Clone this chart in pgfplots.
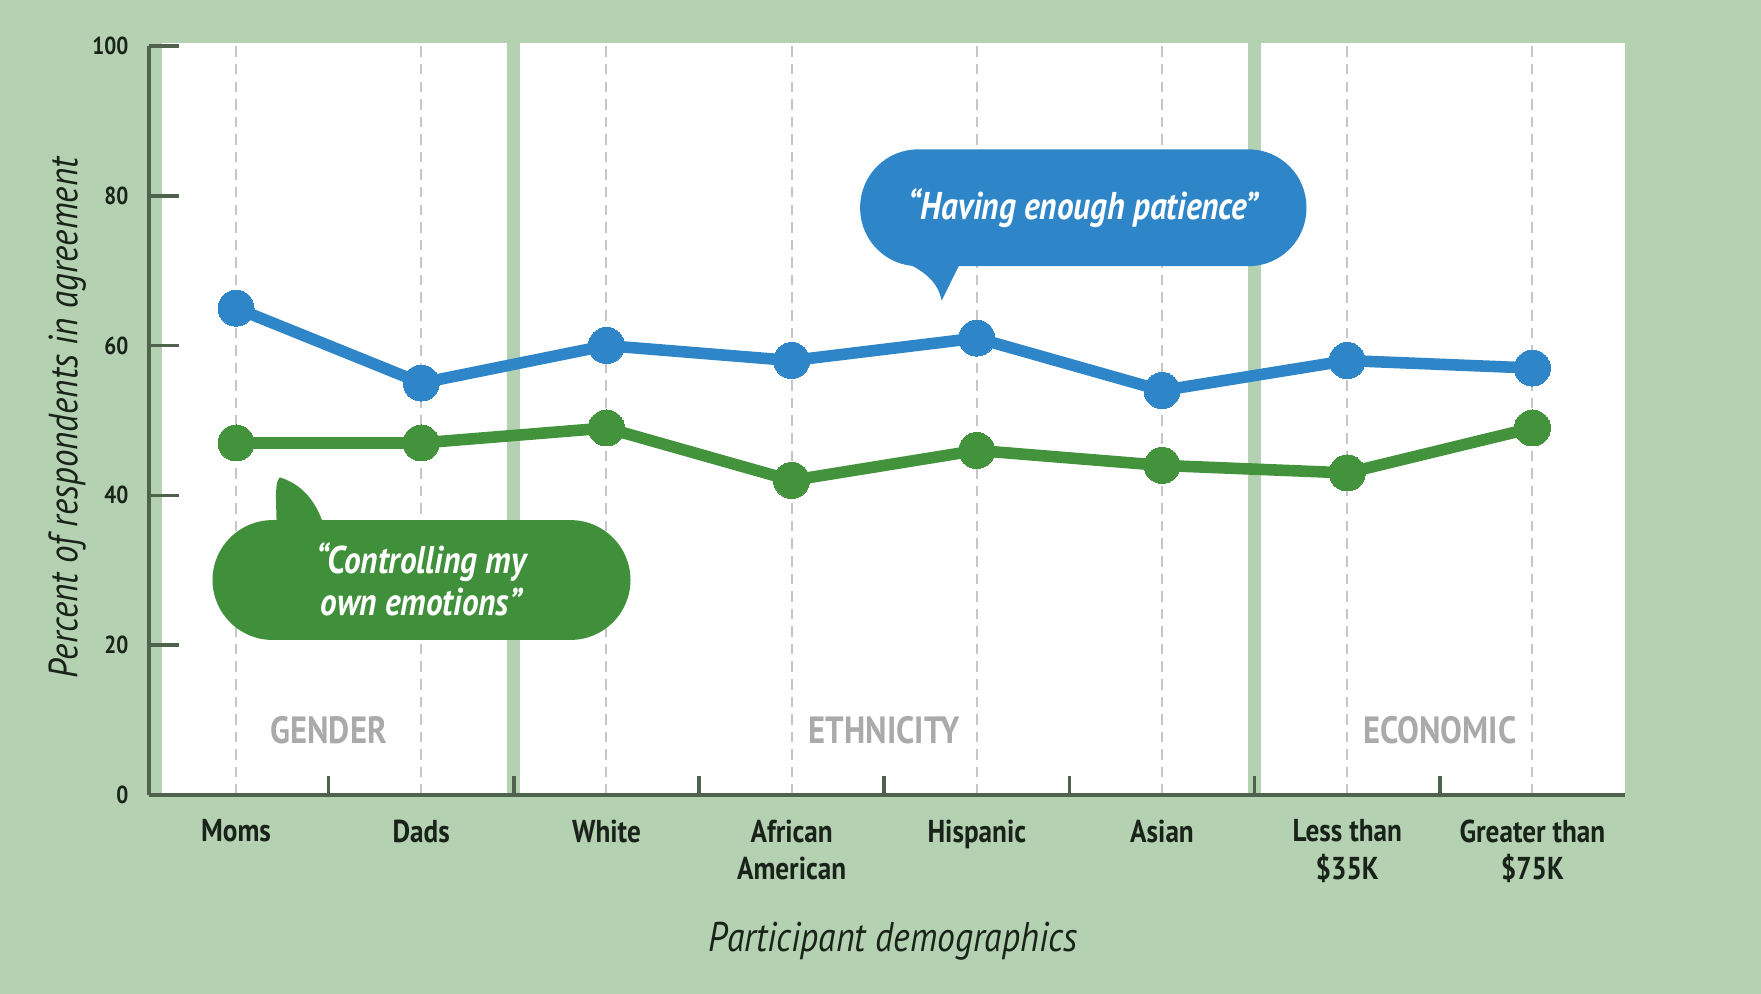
\documentclass[border=0pt]{standalone}
\usepackage{pgfplots}
\pgfplotsset{compat=1.18}
\usepackage{fontspec}
\setmainfont{PT Sans}
\newfontfamily\cond[FakeStretch=0.86]{PT Sans}
\definecolor{bg}{RGB}{180,209,178}
\definecolor{axiscol}{RGB}{78,98,78}
\definecolor{bluec}{RGB}{46,134,200}
\definecolor{greenc}{RGB}{67,146,60}
\definecolor{bubgreen}{RGB}{64,143,58}
\definecolor{darktext}{RGB}{25,35,25}
\definecolor{catgray}{RGB}{170,170,170}
\begin{document}
\begin{tikzpicture}
\fill[bg] (-1.49cm,-1.99cm) rectangle (16.12cm,7.95cm);
% panel axis
\begin{axis}[scale only axis, width=14.76cm, height=7.49cm,
  xmin=-0.47, xmax=7.5, ymin=0, ymax=100, hide axis, clip=false]
\fill[white] (axis cs:-0.4,0) rectangle (axis cs:7.5,100.45);
\fill[bg] (axis cs:1.462,0) rectangle (axis cs:1.535,100.45);
\fill[bg] (axis cs:5.462,0) rectangle (axis cs:5.535,100.45);
\end{axis}
% main axis
\begin{axis}[scale only axis, width=14.76cm, height=7.49cm,
  xmin=-0.47, xmax=7.5, ymin=0, ymax=100, clip=false,
  axis x line=bottom, axis y line=left,
  axis line style={-, draw=axiscol, line width=1.1pt},
  tick align=inside,
  xtick={0,...,7},
  xticklabels={Moms, Dads, White, African\\American, Hispanic, Asian, Less than\\\$35K, Greater than\\\$75K},
  xtick style={draw=none},
  xticklabel style={font=\cond\bfseries\fontsize{9}{10.6}\selectfont, text=darktext, align=center, anchor=north, inner sep=0pt, yshift=-2.4mm},
  extra x ticks={0.5,1.5,2.5,3.5,4.5,5.5,6.5},
  extra x tick labels={},
  extra x tick style={grid=none, xtick style={draw=axiscol, line width=1pt}, major tick length=1.9mm},
  ytick={0,20,40,60,80,100},
  ytick style={draw=axiscol, line width=1pt},
  major tick length=3mm,
  yticklabel style={font=\cond\bfseries\fontsize{7}{8}\selectfont, text=darktext, anchor=east, inner sep=0pt, xshift=-2mm},
  /pgf/number format/assume math mode=true,
  xmajorgrids=true,
  major x grid style={densely dashed, gray!45, line width=0.6pt},
  xlabel={Participant demographics},
  ylabel={Percent of respondents in agreement},
  xlabel style={font=\cond\itshape\fontsize{11.8}{13}\selectfont, text=darktext, at={(axis description cs:0.504,0)}, anchor=center, yshift=-14.6mm},
  ylabel style={font=\cond\itshape\fontsize{11.6}{13}\selectfont, text=darktext, at={(axis description cs:-0.0555,0.503)}, anchor=center},
]
\addplot[bluec, line width=3.3pt, mark=*, mark size=1.8mm, mark options={fill=bluec, draw=bluec, line width=0pt}]
  coordinates {(0,65)(1,55)(2,60)(3,58)(4,61)(5,54)(6,58)(7,57)};
\addplot[greenc, line width=3.3pt, mark=*, mark size=1.8mm, mark options={fill=greenc, draw=greenc, line width=0pt}]
  coordinates {(0,47)(1,47)(2,49)(3,42)(4,46)(5,44)(6,43)(7,49)};
% category labels
\node[font=\cond\bfseries\fontsize{10.8}{12}\selectfont, text=catgray] at (axis cs:0.5,8.7) {GENDER};
\node[font=\cond\bfseries\fontsize{10.8}{12}\selectfont, text=catgray] at (axis cs:3.5,8.7) {ETHNICITY};
\node[font=\cond\bfseries\fontsize{10.8}{12}\selectfont, text=catgray] at (axis cs:6.5,8.7) {ECONOMIC};
% blue bubble
\fill[bluec, rounded corners=5.8mm] (axis cs:3.37,70.6) rectangle (axis cs:5.78,86.2);
\fill[bluec] (axis cs:3.58,71.5) .. controls (axis cs:3.72,70) and (axis cs:3.79,68.5) .. (axis cs:3.81,66)
  .. controls (axis cs:3.85,68) and (axis cs:3.88,69.5) .. (axis cs:3.92,71.5) -- cycle;
\node[text=white, font=\cond\bfseries\itshape\fontsize{11}{12}\selectfont] at (axis cs:4.575,78.4) {“Having enough patience”};
% green bubble
\fill[bubgreen, rounded corners=6mm] (axis cs:-0.127,20.7) rectangle (axis cs:2.13,36.7);
\fill[bubgreen] (axis cs:0.22,35.5) -- (axis cs:0.215,40) .. controls (axis cs:0.22,41.8) .. (axis cs:0.236,42.4)
  .. controls (axis cs:0.36,41.5) and (axis cs:0.44,39) .. (axis cs:0.48,35.5) -- cycle;
\node[text=white, font=\cond\bfseries\itshape\fontsize{11}{12.2}\selectfont, align=center] at (axis cs:1.0,28.8) {“Controlling my\\own emotions”};
\end{axis}
\end{tikzpicture}
\end{document}
